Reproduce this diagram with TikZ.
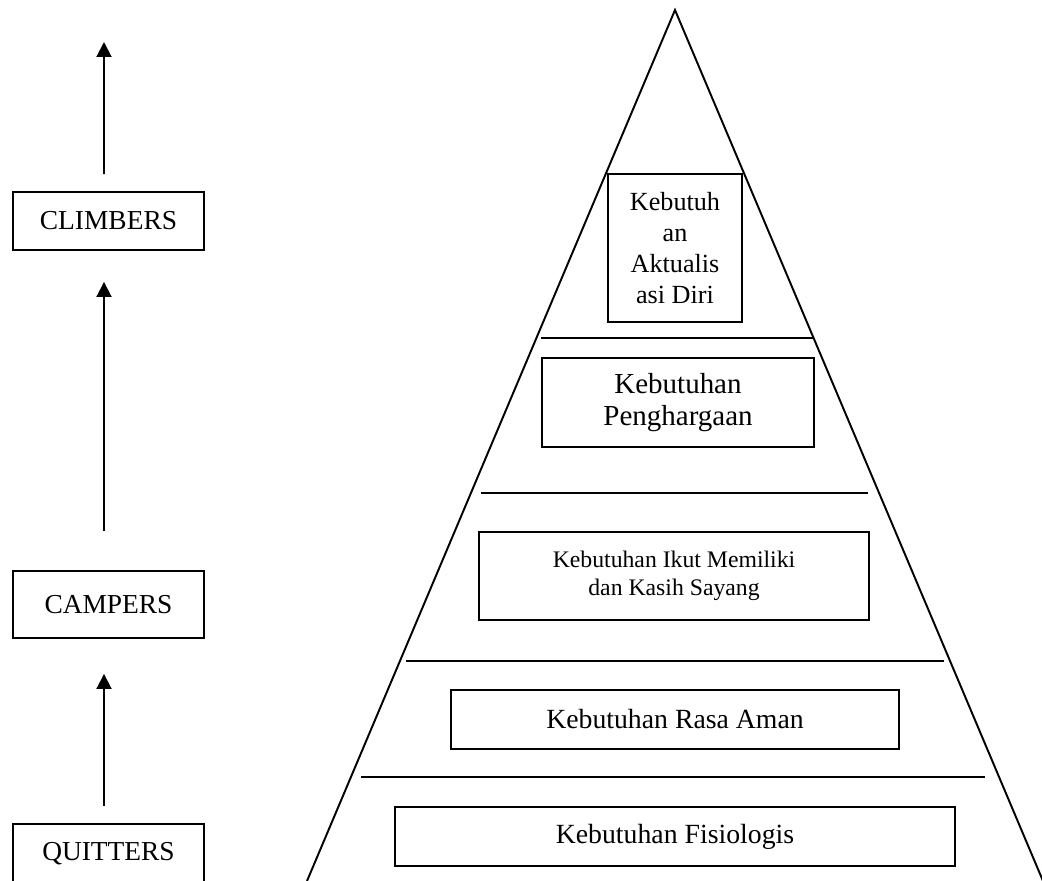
\documentclass[tikz,border=0pt]{standalone}
\usepackage{fontspec}
\setmainfont{Liberation Serif}
\usetikzlibrary{arrows.meta}

\tikzset{
  box/.style = {draw, line width = 1.1pt, inner sep = 0pt, align = center},
  level/.style = {line width = 1.1pt},
  uparrow/.style = {line width = 1.1pt, -{Triangle[length = 0.3cm, width = 0.3cm]}},
}

\begin{document}
\begin{tikzpicture}[x = 0.02cm, y = -0.02cm]
  \useasboundingbox (0, 0) rectangle (1042, 881);

  % pyramid
  \coordinate (apex) at (675, 10);
  \draw[level] (307, 881) -- (apex) -- (1043, 881);

  \foreach \y/\l/\r in {338/541/813, 493/481/868, 661/406/944, 777/361/985}{
    \draw[level] (\l, \y) -- (\r, \y);
  }

  \node[box, minimum width = 2.68cm, minimum height = 2.96cm,
    font = \fontsize{14.9}{17.5}\selectfont] (aktual) at (675, 248)
    {Kebutuh\\an\\Aktualis\\asi Diri};
  \node[box, minimum width = 5.44cm, minimum height = 1.78cm,
    font = \fontsize{16.5}{18.5}\selectfont] (harga) at (678, 402.5)
    {Kebutuhan\\Penghargaan};
  \node[box, minimum width = 7.8cm, minimum height = 1.76cm,
    font = \fontsize{13.5}{16}\selectfont] (ikut) at (674, 576)
    {Kebutuhan Ikut Memiliki\\dan Kasih Sayang};
  \node[box, minimum width = 8.96cm, minimum height = 1.18cm,
    font = \fontsize{15.8}{18}\selectfont] (aman) at (675, 719.5)
    {Kebutuhan Rasa Aman};
  \node[box, minimum width = 11.2cm, minimum height = 1.18cm,
    font = \fontsize{15.8}{18}\selectfont] (fisio) at (675, 836.5)
    {Kebutuhan Fisiologis};

  % climbers, campers, quitters
  \node[box, minimum width = 3.82cm, minimum height = 1.16cm,
    font = \fontsize{15.6}{18}\selectfont] (climbers) at (108.5, 221) {CLIMBERS};
  \node[box, minimum width = 3.82cm, minimum height = 1.34cm,
    font = \fontsize{15.6}{18}\selectfont] (campers) at (108.5, 604.5) {CAMPERS};
  \node[box, minimum width = 3.82cm, minimum height = 1.18cm,
    font = \fontsize{15.6}{18}\selectfont] (quitters) at (108.5, 853.5) {QUITTERS};

  \coordinate (peak) at (104, 42);
  \draw[uparrow, shorten <= 0.34cm, shorten >= 0.7cm]
    ([xshift = -0.09cm]quitters.north) -- ([xshift = -0.09cm]campers.south);
  \draw[uparrow, shorten <= 0.78cm, shorten >= 0.62cm]
    ([xshift = -0.09cm]campers.north) -- ([xshift = -0.09cm]climbers.south);
  \draw[uparrow, shorten <= 0.34cm] ([xshift = -0.09cm]climbers.north) -- (peak);
\end{tikzpicture}
\end{document}
